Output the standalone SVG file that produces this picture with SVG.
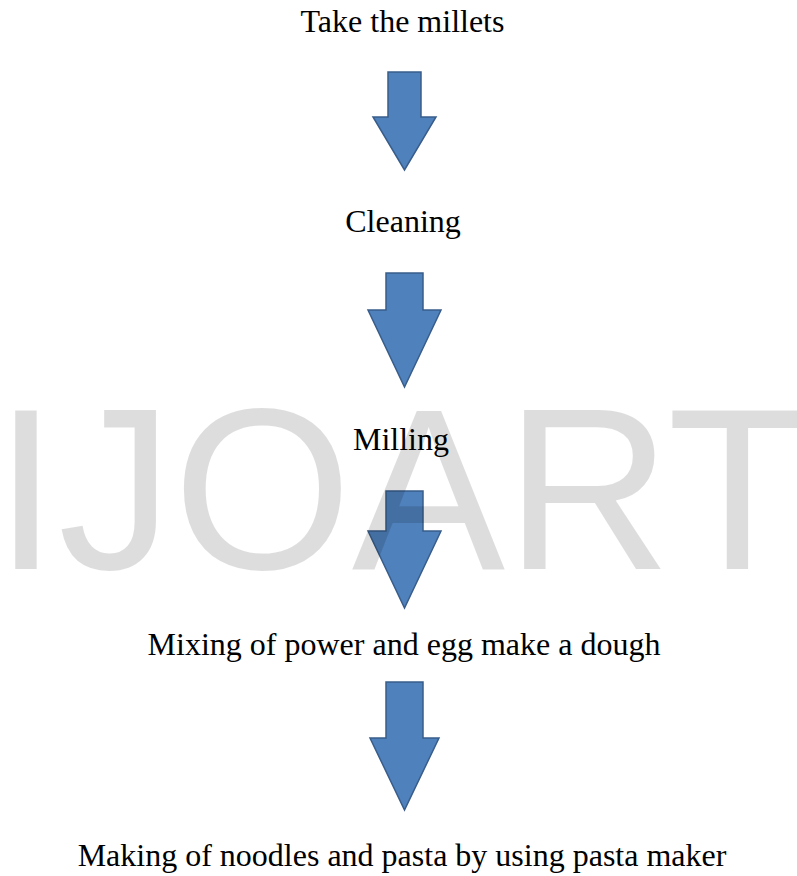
<svg xmlns="http://www.w3.org/2000/svg" width="797" height="876" viewBox="0 0 797 876">
  <style>
    .lbl { font-family: "Liberation Serif", "Times New Roman", serif; font-size: 32px; fill: #000; text-anchor: middle; }
    .arrow { fill: #4F81BD; stroke: #385D8A; stroke-width: 1.5; stroke-linejoin: miter; }
    .wm { font-family: "Liberation Sans", Arial, sans-serif; font-size: 230px; fill: #000; fill-opacity: 0.135; }
  </style>
  <rect width="797" height="876" fill="#ffffff"/>
  <g id="connectors">
    <path class="arrow" d="M388,72 H421 V117 H436 L404.5,170 L373,117 H388 Z"/>
    <path class="arrow" d="M386,273 H423 V310 H441 L404.5,387 L368,310 H386 Z"/>
    <path class="arrow" d="M386,491 H423 V531 H441 L404.5,608 L368,531 H386 Z"/>
    <path class="arrow" d="M386,682 H423 V738 H439 L404.5,810 L370,738 H386 Z"/>
  </g>
  <text class="wm" x="-6" y="569">IJOART</text>
  <g id="node-take">
    <text class="lbl" x="402.5" y="32">Take the millets</text>
  </g>
  <g id="node-cleaning">
    <text class="lbl" x="403" y="232">Cleaning</text>
  </g>
  <g id="node-milling">
    <text class="lbl" x="401" y="450">Milling</text>
  </g>
  <g id="node-mixing">
    <text class="lbl" x="404" y="655">Mixing of power and egg make a dough</text>
  </g>
  <g id="node-making">
    <text class="lbl" x="402" y="866">Making of noodles and pasta by using pasta maker</text>
  </g>
</svg>
